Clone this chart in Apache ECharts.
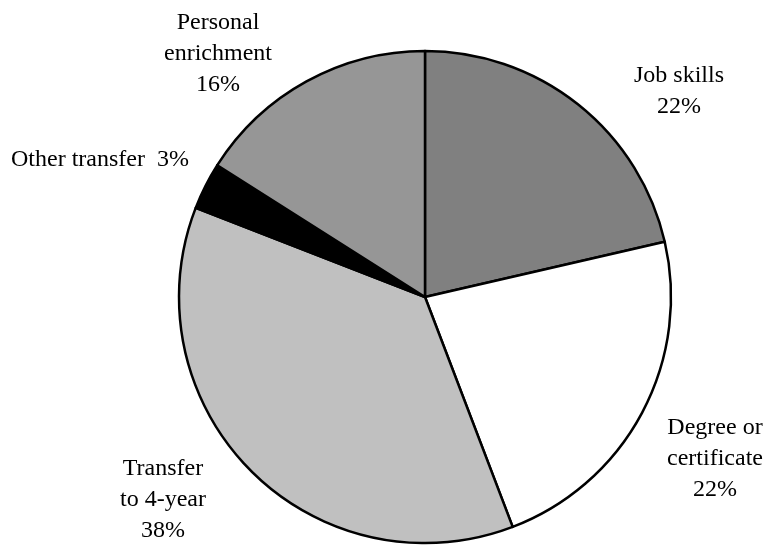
<!DOCTYPE html>
<html>
<head>
<meta charset="utf-8">
<script src="https://cdn.jsdelivr.net/npm/echarts@6/dist/echarts.min.js"></script>
<style>
  html, body { margin: 0; padding: 0; background: #fff; }
  #main { width: 765px; height: 545px; }
</style>
</head>
<body>
<div id="main"></div>
<script>
// slices, clockwise from 12 o'clock
var names = ['Job skills', 'Degree or\ncertificate', 'Transfer\nto 4-year', 'Other transfer', 'Personal\nenrichment'];
var values = [21.4, 22.8, 36.7, 3.1, 16.0];
var pctLabels = ['22%', '22%', '38%', '3%', '16%'];
var colors = ['#808080', '#ffffff', '#c0c0c0', '#000000', '#969696'];

// where each label sits (centre of text block)
var labelPos = [[679, 91], [715, 459], [163, 500], [100, 160], [218, 54]];

var myChart = echarts.init(document.getElementById('main'));

var pieData = [];
for (var i = 0; i < names.length; i++) {
    pieData.push({
        name: names[i],
        value: values[i],
        itemStyle: { color: colors[i] },
        label: {
            formatter: i == 3 ? names[i] + '  ' + pctLabels[i] : names[i] + '\n' + pctLabels[i]
        }
    });
}

var option = {
    backgroundColor: '#ffffff',
    animation: false,
    series: [
        {
            type: 'pie',
            center: [425, 297],
            radius: 246,
            startAngle: 90,
            clockwise: true,
            data: pieData,
            itemStyle: {
                borderColor: '#000',
                borderWidth: 2.5
            },
            label: {
                show: true,
                position: 'outside',
                overflow: 'none',
                color: '#000',
                fontFamily: 'Liberation Serif',
                fontSize: 24,
                lineHeight: 31,
                align: 'center'
            },
            labelLine: { show: false },
            labelLayout: function (params) {
                var p = labelPos[params.dataIndex];
                return {
                    x: p[0],
                    y: p[1],
                    align: 'center',
                    verticalAlign: 'middle'
                };
            },
            emphasis: { disabled: true }
        }
    ]
};

myChart.setOption(option);
</script>
</body>
</html>
